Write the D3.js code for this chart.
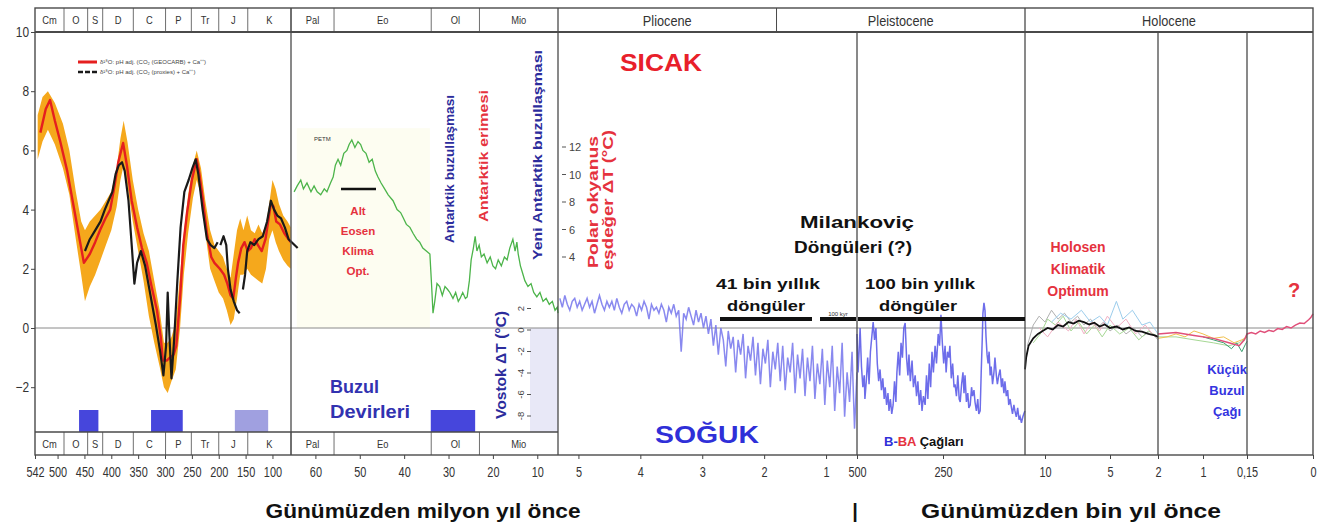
<!DOCTYPE html>
<html><head><meta charset="utf-8">
<script src="https://cdn.jsdelivr.net/npm/d3@7"></script>
<style>
body{margin:0;background:#fff}
svg{display:block}
text{font-family:"Liberation Sans",Arial,sans-serif}
.narrow{font-family:"Liberation Sans Narrow","Liberation Sans",Arial,sans-serif}
</style>
</head><body>
<svg id="chart" width="1333" height="530"></svg>
<script>
// ---------- data ----------
// Geological periods (start age, Ma) shown in the header/footer bands
const periodNames  = ["Cm","O","S","D","C","P","Tr","J","K","Pal","Eo","Ol","Mio"];
const periodStarts = [542,488,444,416,359,299,251,200,146,65.5,55.8,33.9,23.03];
const periodEnd    = 5.33;
const epochNames   = ["Pliocene","Pleistocene","Holocene"];
const epochBounds  = [5.33,1.8,0.0117,0];

// Bottom tick positions (Ma) and their labels
const tickValuesMa = [542,500,450,400,350,300,250,200,150,100,60,50,40,30,20,10,5,4,3,2,1,0.5,0.25,0.01,0.005,0.002,0.001,0.00015,0];
const tickLabels   = ["542","500","450","400","350","300","250","200","150","100","60","50","40","30","20","10","5","4","3","2","1","500","250","10","5","2","1","0,15","0"];
const yTicks = [10,8,6,4,2,0,-2];

// Ice-age intervals (Ma)
const iceAges = [[460,424,"d"],[326,267,"d"],[170,108,"l"],[34,24,"d"]];

// Phanerozoic δ18O temperature, GEOCARB CO2 correction [Ma, °C]
const geocarb = [[532,6.6],[522,7.4],[514,7.7],[505,7.0],[495,6.3],[482,5.3],[468,3.9],[458,2.9],[451,2.2],[440,2.5],[430,2.9],[421,3.3],[411,3.7],[402,4.0],[394,4.8],[387,5.6],[378,6.25],[371,5.5],[362,4.3],[352,3.4],[343,2.7],[334,2.2],[325,1.4],[315,0.6],[308,-0.3],[304,-1.1],[297,-1.1],[291,-1.0],[284,-0.9],[279,-0.6],[272,1.0],[266,2.8],[259,3.9],[250,5.0],[241,5.7],[236,5.2],[230,4.4],[222,3.2],[214,2.4],[208,2.2],[198,2.0],[190,1.8],[184,1.5],[178,1.1],[173,1.0],[168,1.7],[164,2.2],[158,2.7],[152,2.9],[146,2.6],[140,2.7],[133,3.0],[127,2.8],[120,2.6],[113,3.0],[108,3.6],[103,4.2],[98,4.1],[93,3.6],[86,3.5],[78,3.2],[70,3.0],[66,2.9]];

// Uncertainty envelope around the GEOCARB curve
const bandAges = [537,528,518,505,490,478,466,456,449,440,430,420,410,400,390,383,377,370,360,350,340,330,320,310,302,295,288,280,272,265,257,248,241,233,225,216,208,200,192,185,178,172,166,160,154,147,140,133,126,119,112,106,100,94,88,80,72,66];
const bandHi   = [7.2,7.8,8.0,7.6,6.9,6.0,4.6,3.6,3.3,3.6,3.8,4.0,4.3,4.6,5.4,6.4,7.0,6.3,5.0,4.0,3.2,2.6,1.6,0.6,-0.5,-0.5,-0.3,0.2,1.8,3.2,4.5,5.5,6.0,5.4,4.3,3.3,2.8,2.6,2.4,2.0,1.7,2.5,3.3,3.7,3.3,3.8,3.3,3.2,3.5,3.2,3.5,4.2,5.0,4.7,4.2,3.8,3.6,3.4];
const bandLo   = [5.7,6.3,6.7,6.2,5.4,4.5,3.0,1.8,0.9,1.4,1.8,2.3,2.8,3.3,4.1,5.0,5.5,4.8,3.6,2.6,1.6,0.4,-0.5,-1.3,-2.0,-2.2,-1.8,-1.4,0.0,1.8,3.2,4.4,5.0,4.5,3.2,2.0,1.6,1.2,1.0,0.6,0.1,0.3,1.0,1.8,1.8,2.0,1.8,1.7,1.6,1.5,2.0,3.0,3.3,2.9,2.6,2.3,2.1,2.0];

// δ18O temperature with proxy CO2 correction (null = gap)
const proxyCO2 = [[449,2.6],[440,3.0],[430,3.3],[420,3.6],[412,4.0],[405,4.3],[398,4.6],[392,5.2],[386,5.5],[380,5.6],[375,5.3],[368,4.3],[362,2.8],[357,1.5],[352,2.2],[345,2.6],[337,2.1],[327,1.1],[317,0.1],[309,-0.8],[303,-1.6],[298,-0.6],[295,1.2],[292,-0.2],[288,-1.7],[283,-0.4],[277,1.6],[271,3.4],[264,4.6],[256,5.0],[249,5.4],[243,5.7],[238,5.2],[230,4.0],[222,3.0],[215,2.8],[208,2.7],[202,2.9],null,[197,2.8],[191,3.1],[186,2.8],[183,2.0],[178,1.3],[172,0.9],[166,0.6],[161,0.5],null,[155,1.3],[151,1.8],[147,2.6],[141,2.9],[134,2.8],[126,3.0],[118,3.1],[110,3.6],[103,4.3],[97,4.0],[91,3.8],[84,3.7],[77,3.4],[70,3.0],[64,2.7]];

// Cenozoic deep-sea temperature [Ma, °C]
const cenozoic = [[64.8,4.6],[64.1,4.8],[63.3,5.0],[62.7,4.7],[61.9,4.9],[61.0,4.6],[60.3,4.8],[59.6,4.6],[58.8,4.5],[58.0,4.7],[57.4,4.6],[56.6,4.9],[56.0,5.1],[55.5,5.5],[54.9,5.7],[54.3,5.5],[53.6,5.9],[52.9,6.0],[52.4,6.2],[51.8,6.35],[51.1,6.1],[50.4,6.3],[49.8,6.2],[49.3,6.0],[48.6,5.9],[47.9,5.6],[47.2,5.7],[46.5,5.3],[45.9,5.1],[45.2,4.9],[44.4,4.7],[43.6,4.5],[42.5,4.3],[41.6,4.0],[40.8,3.9],[40.3,3.75],[39.5,3.5],[38.7,3.4],[38.0,3.2],[37.2,3.0],[36.5,2.9],[35.8,2.7],[35.0,2.6],[34.2,2.5],[33.8,1.4],[33.5,0.5],[33.1,0.9],[32.6,1.5],[32.0,1.4],[31.4,1.1],[30.8,1.4],[30.2,1.3],[29.7,1.2],[29.0,1.0],[28.4,1.2],[27.8,0.9],[27.4,1.0],[26.8,1.2],[26.2,1.0],[25.8,1.05],[25.3,1.6],[24.9,2.3],[24.4,2.7],[24.0,3.1],[23.6,2.6],[23.1,2.8],[22.6,2.4],[22.0,2.5],[21.3,2.2],[20.6,2.4],[20.0,2.1],[19.4,2.0],[18.8,2.3],[18.1,2.1],[17.4,2.4],[16.8,2.3],[16.2,2.7],[15.5,3.0],[15.0,2.6],[14.6,2.9],[14.3,2.5],[13.8,2.1],[13.4,1.9],[12.8,1.6],[12.1,1.4],[11.4,1.5],[10.8,1.2],[10.1,1.05],[9.4,1.2],[8.7,0.9],[8.0,1.0],[7.3,0.8],[6.6,0.9],[6.0,0.6],[5.5,0.7],[5.33,0.5]];

// Plio-Pleistocene stack, sampled every 0.04 Ma from 5.30 Ma
const plioStartMa = 5.30, plioStepMa = 0.04;
const plioTemp = [
 1.0,0.7,1.1,0.8,0.6,0.9,1.0,0.7,0.9,0.6,
 0.8,1.0,0.7,0.9,0.5,0.8,1.1,0.8,0.6,0.9,
 0.7,0.9,0.6,1.0,0.7,0.5,0.8,0.9,0.6,0.8,
 0.7,0.4,0.8,0.6,0.9,0.7,0.3,0.8,0.6,0.7,
 0.5,0.8,0.6,0.2,0.7,0.5,0.8,0.4,0.6,-0.8,
 0.5,0.3,0.7,0.4,0.1,0.6,0.2,0.5,0.0,0.4,
 -0.2,0.3,-0.6,0.1,-0.9,0.0,-0.4,-1.3,-0.1,-0.7,
 -0.3,-1.5,-0.4,-0.9,-0.2,-1.7,-0.6,-1.1,-0.3,-1.6,
 -0.5,-1.9,-0.7,-1.2,-0.4,-2.0,-0.8,-1.4,-0.5,-1.8,
 -0.6,-2.1,-1.0,-1.5,-0.5,-2.2,-0.9,-1.7,-0.7,-2.3,
 -1.0,-1.8,-0.6,-2.4,-1.2,-1.9,-0.7,-2.6,-1.1,-2.0,
 -0.6,-2.8,-1.3,-2.2,-0.5,-3.0,-1.5,-2.5,-0.8,-3.4,
 -1.5];

// Vostok ice-core record, last 500 kyr [ka, °C]
const vostok = [[500,-0.2],[497,-1.5],[494,-0.8],[491,0.0],[487,-1.3],[483,-2.0],[479,-1.6],[477,-2.4],[473,-1.8],[469,-1.0],[465,-1.9],[461,-0.8],[457,-0.3],[453,0.2],[449,-0.4],[445,0.0],[441,-1.2],[437,-1.8],[433,-1.4],[429,-2.1],[425,-1.7],[421,-2.4],[418,-2.0],[414,-2.6],[410,-2.2],[407,-2.8],[403,-2.4],[399,-2.9],[395,-2.6],[391,-1.8],[387,-2.5],[384,-1.5],[380,-0.8],[376,-1.6],[372,-0.5],[368,-1.0],[364,0.0],[360,0.17],[356,-1.0],[352,-1.6],[349,-0.9],[345,-1.8],[340,-1.1],[336,-2.0],[331,-1.6],[327,-2.3],[323,-1.8],[319,-2.6],[315,-2.1],[311,-2.8],[307,-2.3],[302,-2.6],[298,-1.6],[294,-2.4],[290,-1.2],[286,-2.0],[282,-0.8],[278,-1.5],[273,-0.6],[269,-1.2],[264,-0.2],[260,-0.6],[256,0.45],[252,-0.5],[248,-1.2],[244,-0.6],[241,-1.5],[237,-0.8],[233,-1.0],[230,-0.6],[226,-1.7],[222,-1.2],[218,-2.0],[215,-1.9],[211,-2.3],[207,-1.6],[203,-2.4],[200,-2.5],[196,-1.9],[192,-1.5],[189,-2.2],[186,-1.6],[182,-2.5],[178,-2.2],[175,-2.7],[171,-2.6],[167,-2.0],[164,-2.3],[160,-2.1],[157,-2.5],[153,-2.8],[149,-2.4],[146,-2.9],[142,-2.8],[139,-1.5],[136,-0.4],[134,0.5],[131,0.85],[128,0.6],[125,-0.3],[122,-0.9],[119,-1.2],[116,-0.8],[113,-1.6],[110,-1.3],[106,-1.9],[102,-1.5],[99,-1.0],[95,-1.6],[92,-1.9],[88,-1.6],[84,-1.4],[80,-2.0],[77,-1.7],[73,-2.2],[70,-1.8],[66,-2.3],[62,-2.1],[59,-2.6],[55,-2.4],[51,-2.7],[48,-2.9],[44,-2.6],[41,-2.8],[37,-3.0],[33,-2.7],[29,-3.1],[26,-3.0],[22,-3.2],[18,-3.0],[15,-2.9],[12,-2.8]];

// Holocene reconstructions [ka, °C]
const holoceneMean = [[11.7,-1.4],[11.6,-1.0],[11.4,-0.6],[11.0,-0.35],[10.6,-0.2],[10.2,-0.1],[9.8,0.0],[9.4,-0.05],[9.0,0.1],[8.6,0.05],[8.2,0.2],[7.8,0.15],[7.4,0.25],[7.0,0.2],[6.6,0.12],[6.2,0.18],[5.8,0.05],[5.4,0.12],[5.0,0.0],[4.6,0.05],[4.2,-0.05],[3.8,0.02],[3.4,-0.1],[3.0,-0.12],[2.6,-0.2],[2.2,-0.25],[2.0,-0.3]];
const holoGray  = [[11.5,-0.6],[11.0,0.1],[10.5,0.4],[10.0,0.2],[9.5,0.6],[9.0,0.3],[8.5,0.5],[8.0,0.2],[7.5,0.4],[7.0,0.1],[6.5,0.3],[6.0,0.0],[5.5,0.2],[5.0,-0.1],[4.5,0.1],[4.0,-0.2],[3.5,0.0],[3.0,-0.3],[2.5,-0.1],[2.0,-0.4]];
const holoGreen = [[11.0,-0.5],[10.4,-0.2],[9.8,0.3],[9.2,0.1],[8.6,0.4],[8.0,-0.1],[7.4,0.2],[6.8,-0.2],[6.2,0.1],[5.6,-0.3],[5.0,0.1],[4.4,-0.2],[3.8,0.0],[3.2,-0.4],[2.6,-0.1],[2.0,-0.3],[1.6,-0.3],[1.2,-0.4],[0.8,-0.5],[0.5,-0.6],[0.3,-0.5],[0.15,-0.3]];
const holoPink  = [[10.5,0.0],[9.8,-0.3],[9.0,0.2],[8.2,-0.1],[7.6,0.3],[7.0,-0.2],[6.4,0.2],[5.8,-0.1],[5.2,0.4],[4.6,0.0],[4.0,0.3],[3.4,-0.2],[2.8,0.1],[2.2,-0.3]];
const holoBlue  = [[9.5,0.2],[8.8,0.5],[8.0,0.3],[7.2,0.6],[6.5,0.2],[5.8,0.4],[5.2,0.1],[4.6,0.9],[4.2,0.3],[3.6,0.6],[3.0,0.1],[2.5,0.2],[2.0,-0.2]];
const holoYellow= [[2.0,-0.35],[1.8,-0.3],[1.6,-0.2],[1.4,-0.3],[1.2,-0.1],[1.0,-0.2],[0.8,-0.35],[0.6,-0.3],[0.4,-0.5],[0.25,-0.4],[0.15,-0.3]];
const holoTeal  = [[1.0,-0.3],[0.8,-0.4],[0.6,-0.5],[0.45,-0.7],[0.35,-0.5],[0.25,-0.8],[0.18,-0.55],[0.15,-0.45]];
const instrumental = [[2.0,-0.2],[1.6,-0.15],[1.2,-0.25],[0.8,-0.35],[0.5,-0.5],[0.3,-0.6],[0.2,-0.4],[0.15,-0.2],[0.14,-0.15],[0.13,-0.2],[0.12,-0.1],[0.11,-0.15],[0.10,-0.08],[0.09,-0.12],[0.08,-0.02],[0.07,-0.05],[0.06,0.05],[0.05,0.0],[0.04,0.1],[0.03,0.17],[0.02,0.15],[0.01,0.28],[0.005,0.35],[0.0,0.48]];

// Secondary axes
const polarTicks  = [12,10,8,6,4];
const vostokTicks = [2,0,-2,-4,-6,-8];

// ---------- scales ----------
const svg = d3.select("#chart");
const x = d3.scaleLinear()
  .domain([542,65.5,5.33,0.5,0.0117,0.010,0.005,0.002,0.001,0.00015,0])
  .range([35,291,558,857,1025,1045,1110,1158,1203,1247,1313]);
const y = d3.scaleLinear().domain([0,10]).range([328,32]);
const yPolar = d3.scaleLinear().domain([4,12]).range([257,147]);
const yVostok = d3.scaleLinear().domain([0,-8]).range([330,416]);

const L = 35, R = 1313, TOP = 8, HB = 32, PB = 432, BOT = 455;
const xMid = 558;
const ka = d => d/1000;

// ---------- background shading ----------
svg.append("rect").attr("x", x(64.2)).attr("y", y(6.75))
  .attr("width", x(34.2)-x(64.2)).attr("height", y(0)-y(6.75))
  .attr("fill", "#fdfdf1");
svg.append("rect").attr("x", 530).attr("y", y(0))
  .attr("width", xMid-530).attr("height", PB-y(0)).attr("fill", "#e8e8f7");

// ice-age boxes
svg.selectAll("rect.ice").data(iceAges).join("rect")
  .attr("x", d => x(d[0])).attr("width", d => x(d[1]) - x(d[0]))
  .attr("y", 410).attr("height", PB-410)
  .attr("fill", d => d[2]==="d" ? "#4646dc" : "#a0a0e0");

// zero line
svg.append("line").attr("x1", L).attr("x2", R).attr("y1", y(0)).attr("y2", y(0))
  .attr("stroke", "#8a8a8a").attr("stroke-width", 1);

// ---------- data marks ----------
const line = d3.line().defined(d => d!==null).x(d => x(d[0])).y(d => y(d[1]));
const lineKa = d3.line().x(d => x(ka(d[0]))).y(d => y(d[1]));

const band = bandAges.map((a,i) => [a, bandLo[i], bandHi[i]]);
svg.append("path").datum(band)
  .attr("d", d3.area().x(d => x(d[0])).y0(d => y(d[1])).y1(d => y(d[2])))
  .attr("fill", "#f5a81c");
svg.append("path").datum(geocarb).attr("d", line)
  .attr("fill","none").attr("stroke","#e51f1f").attr("stroke-width",2.4).attr("stroke-linejoin","round");
svg.append("path").datum(proxyCO2).attr("d", line)
  .attr("fill","none").attr("stroke","#1a1a1a").attr("stroke-width",2.2).attr("stroke-linejoin","round");

svg.append("path").datum(cenozoic).attr("d", line)
  .attr("fill","none").attr("stroke","#4cb44a").attr("stroke-width",1.3);

const plio = plioTemp.map((v,i) => [plioStartMa - i*plioStepMa, v]);
svg.append("path").datum(plio).attr("d", line)
  .attr("fill","none").attr("stroke","#7474ec").attr("stroke-width",1.5).attr("opacity",0.85);
svg.append("path").datum(vostok).attr("d", lineKa)
  .attr("fill","none").attr("stroke","#5353e6").attr("stroke-width",1.5).attr("opacity",0.85);

const holoSets = [[holoGray,"#b0b0b0"],[holoGreen,"#a6d894"],[holoPink,"#f2b0c4"],[holoBlue,"#9ccdec"],[holoYellow,"#f2c14e"],[holoTeal,"#3aa070"]];
holoSets.forEach(([d,c]) => svg.append("path").datum(d).attr("d", lineKa)
  .attr("fill","none").attr("stroke",c).attr("stroke-width",1));
svg.append("path").datum(instrumental).attr("d", lineKa)
  .attr("fill","none").attr("stroke","#e0507a").attr("stroke-width",1.5);
svg.append("path").datum(holoceneMean).attr("d", lineKa)
  .attr("fill","none").attr("stroke","#111").attr("stroke-width",1.8);

// ---------- frame and bands ----------
const g = svg.append("g").attr("fill","none").attr("stroke","#4a4a4a");
g.append("rect").attr("x",L).attr("y",TOP).attr("width",R-L).attr("height",BOT-TOP).attr("stroke-width",1.4);
g.append("line").attr("x1",L).attr("x2",R).attr("y1",HB).attr("y2",HB).attr("stroke-width",2);
g.append("line").attr("x1",L).attr("x2",xMid).attr("y1",PB).attr("y2",PB).attr("stroke-width",1.4);

// period dividers in both bands
periodStarts.slice(1).forEach(a => {
  g.append("line").attr("x1",x(a)).attr("x2",x(a)).attr("y1",TOP).attr("y2",HB).attr("stroke-width",0.8);
  g.append("line").attr("x1",x(a)).attr("x2",x(a)).attr("y1",PB).attr("y2",BOT).attr("stroke-width",0.8);
});
// epoch divider inside header
g.append("line").attr("x1",x(1.8)).attr("x2",x(1.8)).attr("y1",TOP).attr("y2",HB).attr("stroke-width",1);
// panel dividers
[[65.5,TOP],[5.33,TOP],[0.5,HB],[0.0117,TOP],[0.002,HB],[0.00015,HB]].forEach(([a,t]) =>
  g.append("line").attr("x1",x(a)).attr("x2",x(a)).attr("y1",t).attr("y2",BOT).attr("stroke-width",1.3));

// band labels
const periodEnds = periodStarts.slice(1).concat([periodEnd]);
[TOP, PB].forEach(top => {
  svg.selectAll(null).data(periodNames).join("text").attr("class","narrow")
    .attr("transform",(d,i) => `translate(${(x(periodStarts[i]) + x(periodEnds[i]))/2},${top + (HB-TOP)/2 + 4}) scale(0.85,1)`)
    .attr("text-anchor","middle").attr("font-size",11).attr("fill","#333").text(d => d);
});
svg.selectAll(null).data(epochNames).join("text").attr("class","narrow")
  .attr("transform",(d,i) => `translate(${(x(epochBounds[i]) + x(epochBounds[i+1]))/2},26) scale(0.85,1)`)
  .attr("text-anchor","middle").attr("font-size",15).attr("fill","#333").text(d => d);

// ---------- axes ----------
const yAxis = svg.append("g").attr("transform",`translate(${L},0)`)
  .call(d3.axisLeft(y).tickValues(yTicks).tickSize(4).tickPadding(3));
yAxis.select(".domain").remove();
yAxis.selectAll("text").attr("class","narrow").attr("font-size",14).attr("fill","#333")
  .attr("transform","scale(0.85,1)");
yAxis.selectAll("line").attr("stroke","#444");

const xAxis = svg.append("g").attr("transform",`translate(0,${BOT})`)
  .call(d3.axisBottom(x).tickValues(tickValuesMa).tickFormat((d,i) => tickLabels[i]).tickSize(4).tickPadding(8));
xAxis.select(".domain").remove();
xAxis.selectAll("text").attr("class","narrow").attr("font-size",14).attr("fill","#333")
  .attr("transform","scale(0.78,1)");
xAxis.selectAll("line").attr("stroke","#444");

// polar-ocean axis
polarTicks.forEach(v => {
  svg.append("line").attr("x1",562).attr("x2",566).attr("y1",yPolar(v)).attr("y2",yPolar(v)).attr("stroke","#555");
  svg.append("text").attr("class","narrow").attr("x",569).attr("y",yPolar(v)+4)
    .attr("font-size",11).attr("fill","#444").text(v);
});
// Vostok axis (rotated labels)
vostokTicks.forEach(v => {
  svg.append("line").attr("x1",527).attr("x2",531).attr("y1",yVostok(v)).attr("y2",yVostok(v)).attr("stroke","#555");
  svg.append("text").attr("class","narrow").attr("transform",`translate(524,${yVostok(v)}) rotate(-90)`)
    .attr("text-anchor","middle").attr("font-size",9.5).attr("fill","#444").text(v);
});

// ---------- legend ----------
svg.append("line").attr("x1",78).attr("x2",97).attr("y1",62).attr("y2",62).attr("stroke","#e51f1f").attr("stroke-width",3);
svg.append("line").attr("x1",78).attr("x2",97).attr("y1",72).attr("y2",72).attr("stroke","#1a1a1a").attr("stroke-width",2.5).attr("stroke-dasharray","5,2");
svg.append("text").attr("x",100).attr("y",64).attr("font-size",6).attr("fill","#444").text("δ¹⁸O: pH adj. (CO₂ (GEOCARB) + Ca⁺⁺)");
svg.append("text").attr("x",100).attr("y",74).attr("font-size",6).attr("fill","#444").text("δ¹⁸O: pH adj. (CO₂ (proxies) + Ca⁺⁺)");

// ---------- annotations ----------
function label(t, xx, yy, o) {
  o = o || {};
  const el = svg.append("text").attr("x",xx).attr("y",yy)
    .attr("text-anchor", o.anchor || "middle")
    .attr("font-size", o.size || 14).attr("font-weight", o.weight || "bold")
    .attr("fill", o.color || "#111").text(t);
  if (o.len) el.attr("textLength", o.len).attr("lengthAdjust","spacingAndGlyphs");
  return el;
}
function vlabel(t, xx, yBottom, o) {
  o = o || {};
  const el = svg.append("text").attr("transform",`translate(${xx},${yBottom}) rotate(-90)`)
    .attr("dominant-baseline","central").attr("text-anchor","start")
    .attr("font-size", o.size || 12).attr("font-weight","bold").attr("fill", o.color).text(t);
  if (o.len) el.attr("textLength", o.len).attr("lengthAdjust","spacingAndGlyphs");
}

// PETM and Early Eocene optimum
svg.append("text").attr("x",314).attr("y",141).attr("font-size",6).attr("fill","#333").text("PETM");
svg.append("line").attr("x1",341).attr("x2",376).attr("y1",189).attr("y2",189).attr("stroke","#111").attr("stroke-width",2.5);
["Alt","Eosen","Klima","Opt."].forEach((t,i) => label(t, 358, 215 + i*20, {size:11.5, color:"#e5323e"}));

label("Buzul", 330, 393, {anchor:"start", size:18, color:"#3232b0"});
label("Devirleri", 330, 418, {anchor:"start", size:18, color:"#3232b0", len:80});

vlabel("Antarktik buzullaşması", 450, 243, {color:"#2c2c9c", len:148});
vlabel("Antarktik erimesi", 484, 222, {color:"#e5323e", len:132});
vlabel("Yeni Antarktik buzullaşması", 538, 260, {color:"#2c2c9c", len:210});
vlabel("Polar okyanus", 593, 268, {color:"#e5323e", size:14, len:132});
vlabel("eşdeğer ΔT (°C)", 608, 270, {color:"#e5323e", size:14, len:140});
vlabel("Vostok ΔT (°C)", 500, 419, {color:"#2c2c9c", size:15, len:108});

label("SICAK", 661, 71, {size:23, color:"#e8202a", len:82});
label("SOĞUK", 707, 443, {size:23, color:"#2f2fd8", len:104});

label("Milankoviç", 857, 228, {size:17, len:114});
label("Döngüleri (?)", 853, 253, {size:17, len:118});
label("41 bin yıllık", 768, 289, {size:14, len:104});
label("döngüler", 766, 311, {size:14, len:78});
label("100 bin yıllık", 920, 289, {size:14, len:110});
label("döngüler", 918, 311, {size:14, len:78});
svg.append("text").attr("x",838).attr("y",316).attr("text-anchor","middle").attr("font-size",6).attr("fill","#333").text("100 kyr");
[[720,812],[820,856],[858,1025]].forEach(([a,b]) =>
  svg.append("line").attr("x1",a).attr("x2",b).attr("y1",319).attr("y2",319).attr("stroke","#111").attr("stroke-width",4));

["Holosen","Klimatik","Optimum"].forEach((t,i) => label(t, 1078, 252 + i*22, {size:14, color:"#e5323e"}));
["Küçük","Buzul","Çağı"].forEach((t,i) => label(t, 1227, 374 + i*21, {size:13, color:"#3434e0"}));
label("?", 1294, 297, {size:20, color:"#e5323e"});

const bba = svg.append("text").attr("x",884).attr("y",446).attr("font-size",13).attr("font-weight","bold");
bba.append("tspan").attr("fill","#2f2fd8").text("B-");
bba.append("tspan").attr("fill","#e5323e").text("BA");
bba.append("tspan").attr("fill","#111").text(" Çağları");

// axis titles
label("Günümüzden milyon yıl önce", 423, 518, {size:20, color:"#111", len:315});
label("|", 855, 518, {size:20, color:"#111"});
label("Günümüzden bin yıl önce", 1071, 518, {size:20, color:"#111", len:300});
</script>
</body></html>
